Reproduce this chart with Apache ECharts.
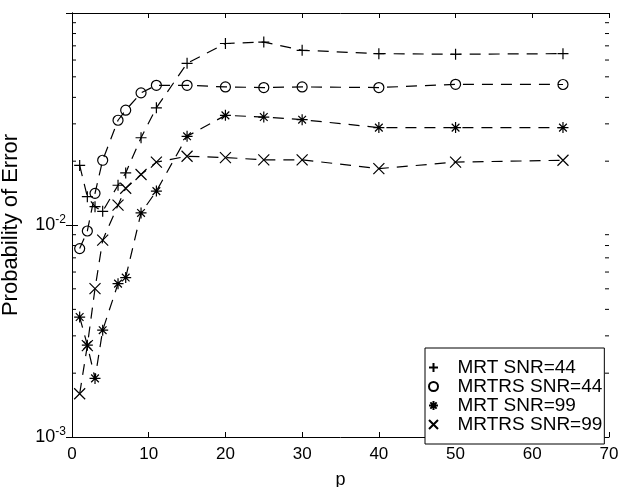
<!DOCTYPE html>
<html><head><meta charset="utf-8">
<script src="https://cdn.jsdelivr.net/npm/echarts@6/dist/echarts.min.js"></script>
<style>html,body{margin:0;padding:0;background:#fff}#c{width:623px;height:487px}</style>
</head><body><div id="c"></div>
<script>
const pValues = [1, 2, 3, 4, 6, 7, 9, 11, 15, 20, 25, 30, 40, 50, 64];
const mrt44   = [0.0191, 0.0136, 0.0122, 0.0116, 0.0154, 0.0176, 0.0258, 0.0357, 0.0579, 0.0718, 0.0729, 0.0667, 0.0643, 0.0639, 0.0643];
const mrtrs44 = [0.00774, 0.00937, 0.0141, 0.0202, 0.0312, 0.0348, 0.0420, 0.0456, 0.0456, 0.0448, 0.0445, 0.0448, 0.0445, 0.0461, 0.0460];
const mrt99   = [0.00368, 0.00271, 0.00189, 0.00319, 0.00529, 0.00565, 0.0114, 0.01445, 0.0262, 0.0329, 0.0323, 0.0314, 0.0288, 0.0288, 0.0288];
const mrtrs99 = [0.00160, 0.00270, 0.00501, 0.00848, 0.0124, 0.0149, 0.0173, 0.0198, 0.0211, 0.0208, 0.0203, 0.0203, 0.01845, 0.0198, 0.0202];
const seriesNames = ['MRT SNR=44', 'MRTRS SNR=44', 'MRT SNR=99', 'MRTRS SNR=99'];
const xMin = 0, xMax = 70, xTickStep = 10;
const yMin = 0.001, yMax = 0.1;
const yMinorTicks = [0.002,0.003,0.004,0.005,0.006,0.007,0.008,0.009,0.02,0.03,0.04,0.05,0.06,0.07,0.08,0.09];

const FONT = 'Liberation Sans, Arial, sans-serif';
const PLUS = 'path://M5,0L5,10M0,5L10,5';
const CROSS = 'path://M0,0L10,10M10,0L0,10';
const STAR = 'path://M5,0L5,10M0,5L10,5M1.5,1.5L8.5,8.5M8.5,1.5L1.5,8.5';
const symbols = [PLUS, 'circle', STAR, CROSS];
const allData = [mrt44, mrtrs44, mrt99, mrtrs99];

const chart = echarts.init(document.getElementById('c'), null, {renderer: 'canvas'});
const axisLineStyle = {color: '#000', width: 1};

const series = seriesNames.map((name, i) => ({
  name: name,
  type: 'line',
  xAxisIndex: 0, yAxisIndex: 0,
  data: pValues.map((p, k) => [p, allData[i][k]]),
  symbol: symbols[i],
  symbolSize: i === 1 ? 10 : 11,
  showAllSymbol: true,
  lineStyle: {color: '#000', width: 1.2, type: [11, 8]},
  itemStyle: {color: i === 1 ? 'rgba(0,0,0,0)' : '#000', borderColor: '#000', borderWidth: 1.2},
  emphasis: {disabled: true},
  animation: false
}));

// minor log ticks on the left and right frame, positioned through the log axis
series.push({
  type: 'custom',
  name: 'minorTicks',
  xAxisIndex: 0, yAxisIndex: 0,
  silent: true,
  clip: false,
  z: 10,
  data: yMinorTicks.map(v => [xMax, v]),
  renderItem: function (params, api) {
    const v = api.value(1);
    const pr = api.coord([xMax, v]);
    const pl = api.coord([xMin, v]);
    return {
      type: 'group',
      children: [
        {type: 'polyline', shape: {points: [[pl[0], pl[1]], [pl[0] + 4, pl[1]]]}, style: {stroke: '#000', lineWidth: 1, fill: null}},
        {type: 'polyline', shape: {points: [[pr[0], pr[1]], [pr[0] - 4, pr[1]]]}, style: {stroke: '#000', lineWidth: 1, fill: null}}
      ]
    };
  },
  animation: false
});

const option = {
  animation: false,
  backgroundColor: '#fff',
  grid: {left: 72, right: 14, top: 13, bottom: 50, outerBoundsMode: 'none'},
  xAxis: [
    {type: 'value', min: xMin, max: xMax, interval: xTickStep, position: 'bottom',
     axisLine: {show: true, lineStyle: axisLineStyle},
     axisTick: {show: true, inside: true, length: 5, lineStyle: axisLineStyle},
     axisLabel: {show: true, color: '#000', fontSize: 17, fontFamily: FONT, margin: 9},
     splitLine: {show: false},
     name: 'p', nameLocation: 'middle', nameGap: 34,
     nameTextStyle: {color: '#000', fontSize: 18, fontFamily: FONT}},
    {type: 'value', min: xMin, max: xMax, interval: xTickStep, position: 'top',
     axisLine: {show: true, lineStyle: axisLineStyle},
     axisTick: {show: true, inside: true, length: 5, lineStyle: axisLineStyle},
     axisLabel: {show: false}, splitLine: {show: false}}
  ],
  yAxis: [
    {type: 'log', logBase: 10, min: yMin, max: yMax, position: 'left',
     axisLine: {show: true, lineStyle: axisLineStyle},
     axisTick: {show: true, inside: true, length: 6, lineStyle: axisLineStyle},
     axisLabel: {show: true, margin: 6, color: '#000',
       formatter: function (v) {
         if (v > 0.05) return '';
         const e = Math.round(Math.log10(v));
         return '{a|10}{b|' + e + '}';
       },
       rich: {
         a: {fontSize: 18, fontFamily: FONT, color: '#000'},
         b: {fontSize: 12, fontFamily: FONT, color: '#000', padding: [0, 0, 10, 0]}
       }},
     splitLine: {show: false},
     name: 'Probability of Error', nameLocation: 'middle', nameGap: 50,
     nameTextStyle: {color: '#000', fontSize: 22, fontFamily: FONT}},
    {type: 'log', logBase: 10, min: yMin, max: yMax, position: 'right',
     axisLine: {show: true, lineStyle: axisLineStyle},
     axisTick: {show: true, inside: true, length: 6, lineStyle: axisLineStyle},
     axisLabel: {show: false}, splitLine: {show: false}}
  ],
  legend: {
    orient: 'vertical', left: 425, top: 348, itemGap: 0,
    itemWidth: 22, itemHeight: 9,
    padding: [10, 2, 10, 3],
    borderColor: '#000', borderWidth: 1, backgroundColor: '#fff',
    textStyle: {fontSize: 19, fontFamily: FONT, color: '#000', lineHeight: 17, padding: [0, 0, 0, 8]},
    data: seriesNames.map((n, i) => ({name: n, icon: symbols[i]})),
    selectedMode: false
  },
  series: series
};
chart.setOption(option);
</script>
</body></html>
